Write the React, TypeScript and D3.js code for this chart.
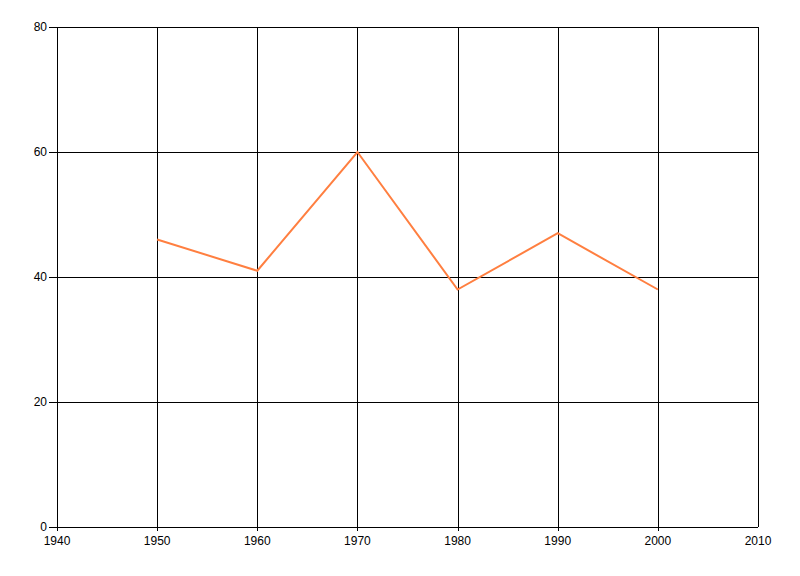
import React from "react";
import * as d3 from "d3";

const years = [1950, 1960, 1970, 1980, 1990, 2000];
const values = [46, 41, 60, 38, 47, 38];
const xTicks = [1940, 1950, 1960, 1970, 1980, 1990, 2000, 2010];
const yTicks = [0, 20, 40, 60, 80];

const W = 800;
const H = 576;
const left = 57;
const right = 758;
const top = 27;
const bottom = 527;
const font = "'Liberation Sans Narrow', 'Liberation Sans', Arial, sans-serif";

export default function App() {
  const x = d3.scaleLinear().domain([1940, 2010]).range([left, right]);
  const y = d3.scaleLinear().domain([0, 80]).range([bottom, top]);
  const line = d3
    .line<number>()
    .x((_, i) => x(years[i]))
    .y((d) => y(d));

  return (
    <svg
      width={W}
      height={H}
      style={{ position: "absolute", left: 0, top: 0, background: "#fff" }}
    >
      <g shapeRendering="crispEdges" stroke="#000" strokeWidth={1}>
        {xTicks.map((t) => (
          <line
            key={"gx" + t}
            x1={Math.round(x(t)) + 0.5}
            x2={Math.round(x(t)) + 0.5}
            y1={top}
            y2={t === 2010 ? bottom : bottom + 4}
          />
        ))}
        {yTicks.map((t) => (
          <line
            key={"gy" + t}
            x1={left - 8}
            x2={right}
            y1={Math.round(y(t)) + 0.5}
            y2={Math.round(y(t)) + 0.5}
          />
        ))}
      </g>
      <path
        d={line(values) || ""}
        fill="none"
        stroke="#FF7F40"
        strokeWidth={2}
        strokeLinejoin="miter"
      />
      <g fontFamily={font} fontSize={12} fill="#000">
        {yTicks.map((t) => (
          <text
            key={"ly" + t}
            x={left - 10}
            y={y(t)}
            textAnchor="end"
            dominantBaseline="central"
          >
            {t}
          </text>
        ))}
        {xTicks.map((t) => (
          <text key={"lx" + t} x={x(t)} y={bottom + 18} textAnchor="middle">
            {t}
          </text>
        ))}
      </g>
    </svg>
  );
}
